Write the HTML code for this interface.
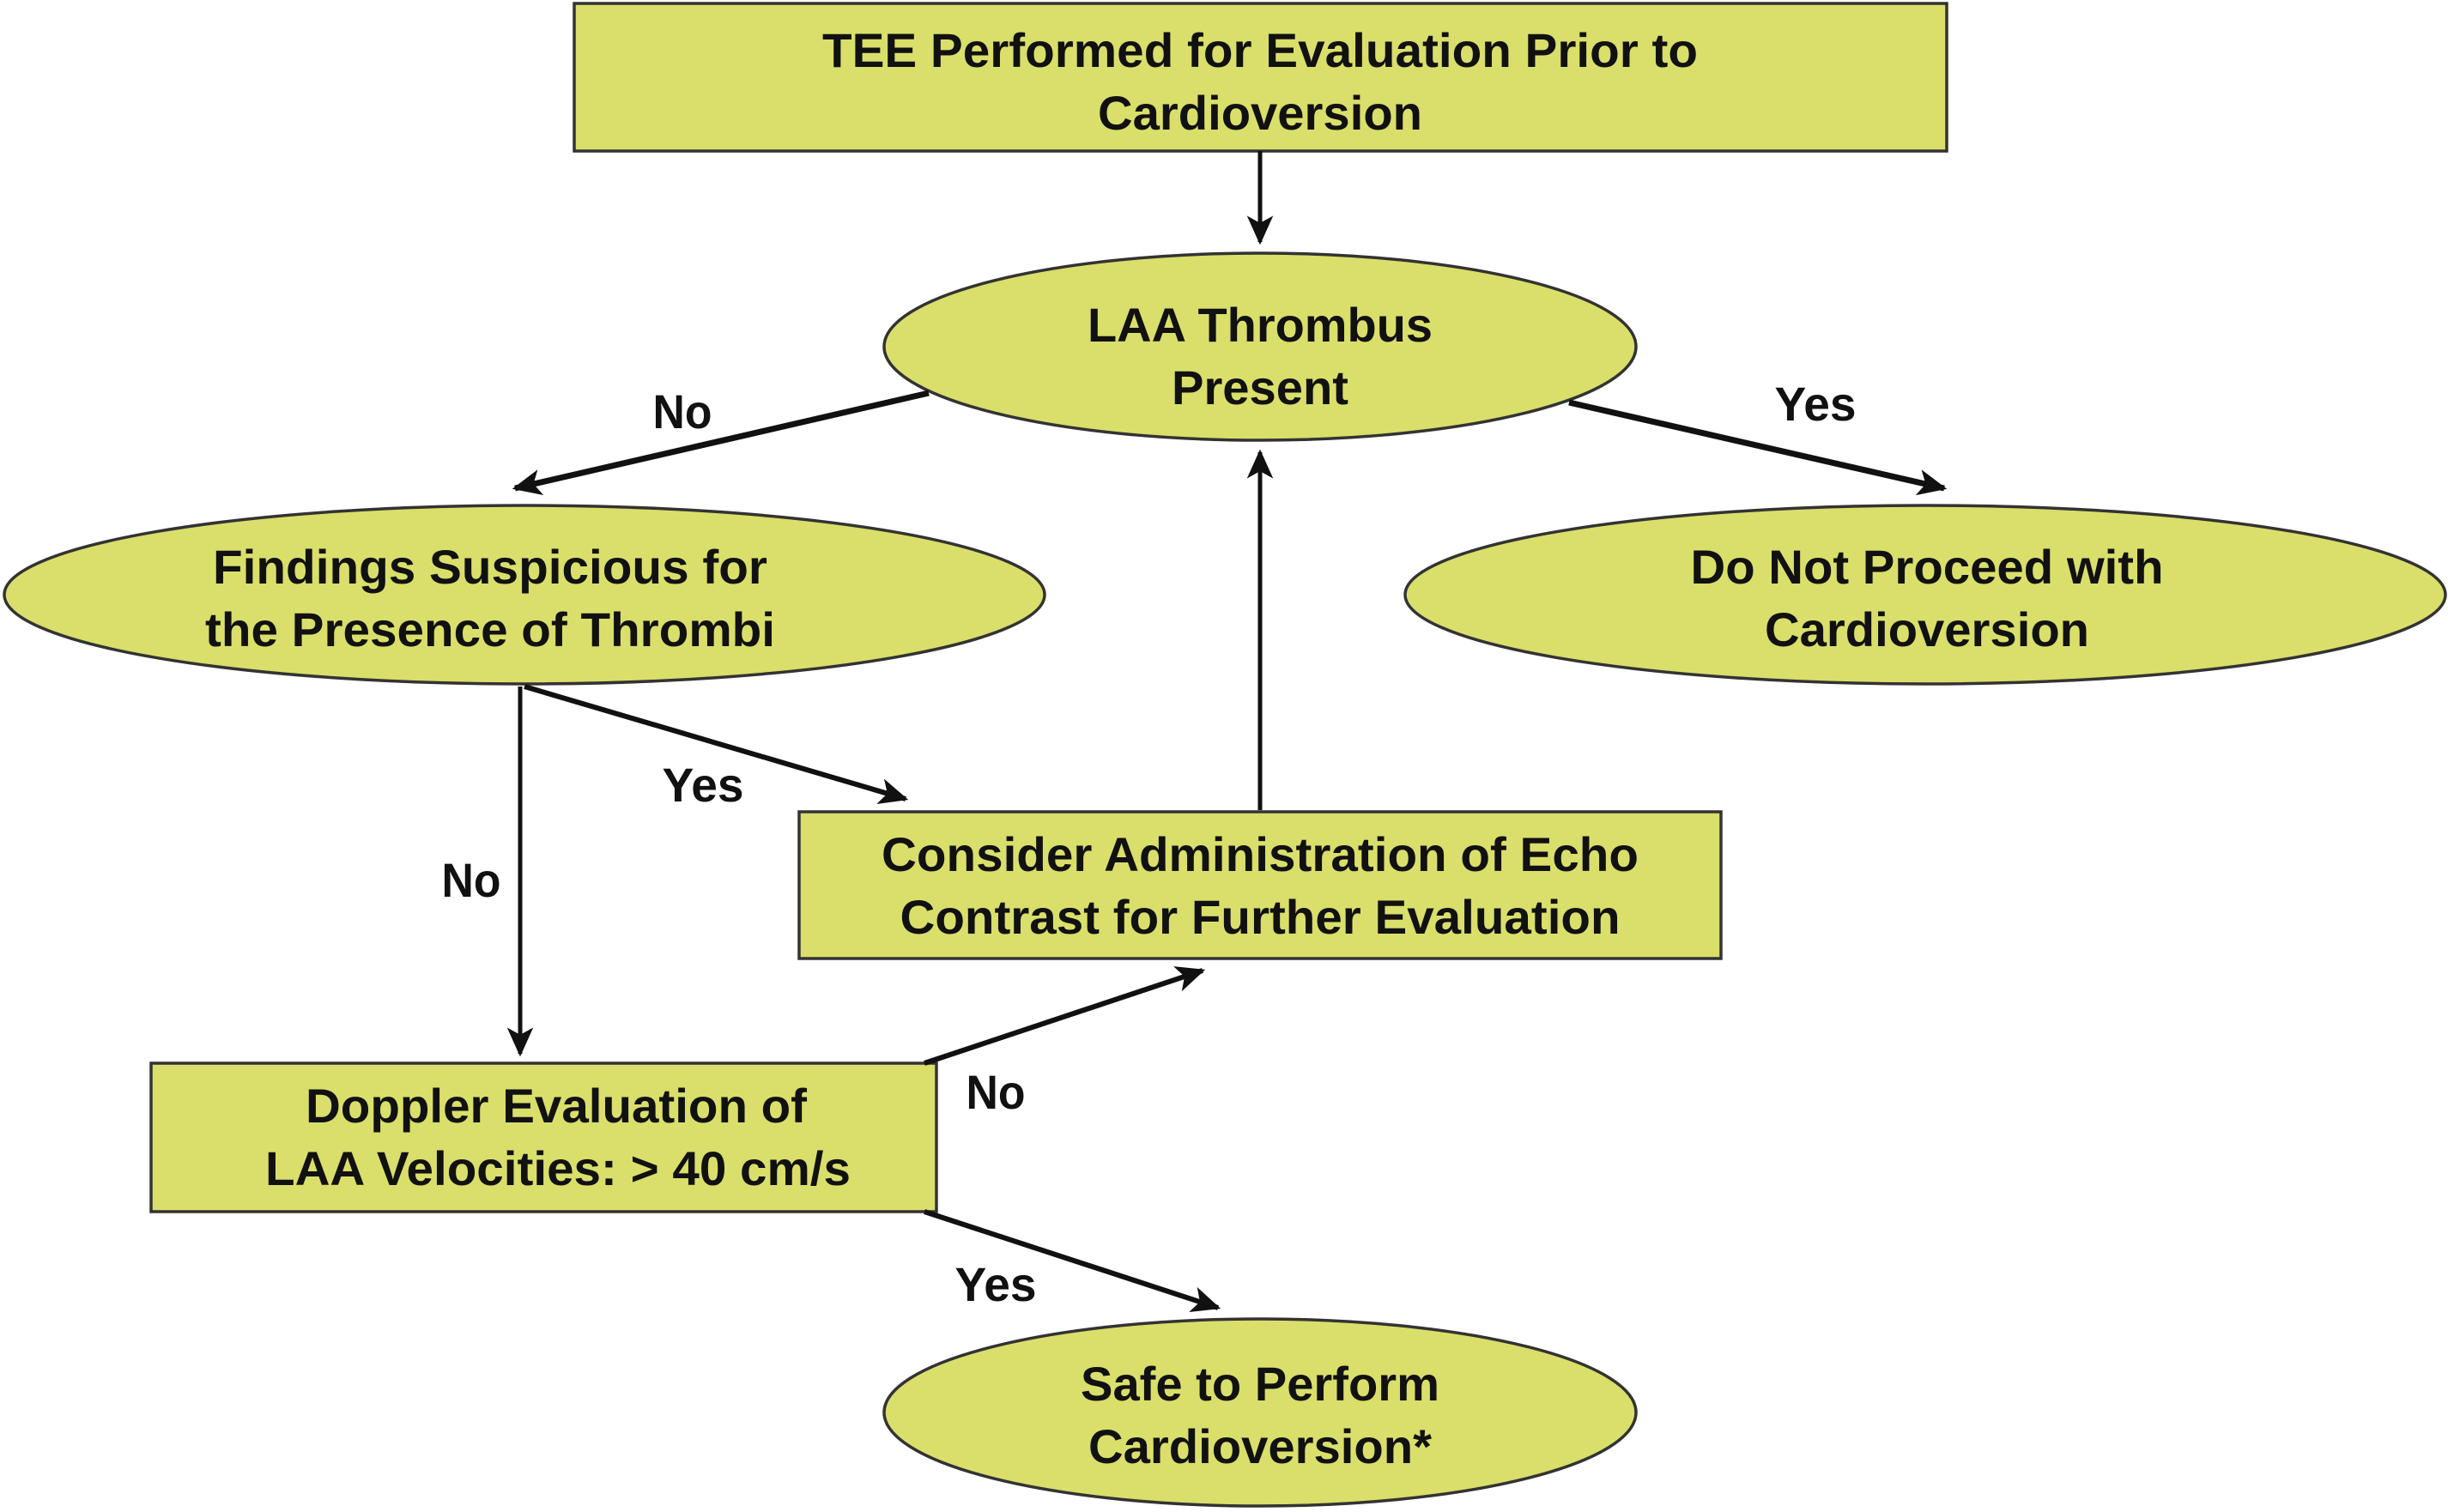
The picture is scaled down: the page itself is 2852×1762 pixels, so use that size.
<!DOCTYPE html>
<html><head><style>html,body{margin:0;padding:0;background:#fff}svg{display:block}</style></head>
<body>
<svg width="2852" height="1762" viewBox="0 0 2852 1762" xmlns="http://www.w3.org/2000/svg">
<defs>
<marker id="ah" viewBox="0 0 20 20" refX="18" refY="10" markerWidth="34" markerHeight="34" orient="auto" markerUnits="userSpaceOnUse">
<path d="M0,1 L20,10 L0,19 L5,10 Z" fill="#111"/>
</marker>
</defs>
<g fill="#d9df6a" stroke="#333" stroke-width="3.5">
<rect x="669" y="4" width="1599" height="172"/>
<ellipse cx="1468" cy="404" rx="438" ry="109"/>
<ellipse cx="611" cy="693" rx="606" ry="104"/>
<ellipse cx="2243" cy="693" rx="606" ry="104"/>
<rect x="931" y="946" width="1074" height="171"/>
<rect x="176" y="1239" width="915" height="173"/>
<ellipse cx="1468" cy="1646" rx="438" ry="109"/>
</g>
<g stroke="#111" stroke-width="5" fill="none" marker-end="url(#ah)">
<line x1="1468" y1="176" x2="1468" y2="282" stroke-width="5"/>
<line x1="1082" y1="458" x2="600" y2="569" stroke-width="7"/>
<line x1="1828" y1="469" x2="2265" y2="569" stroke-width="7"/>
<line x1="1468" y1="944" x2="1468" y2="527" stroke-width="5"/>
<line x1="606" y1="800" x2="606" y2="1228" stroke-width="5"/>
<line x1="611" y1="800" x2="1055" y2="931" stroke-width="6"/>
<line x1="1077" y1="1239" x2="1401" y2="1131" stroke-width="6"/>
<line x1="1077" y1="1412" x2="1419" y2="1524" stroke-width="6"/>
</g>
<g font-family="Liberation Sans, sans-serif" font-weight="bold" font-size="56" fill="#111" text-anchor="middle">
<text x="1468" y="78" textLength="1020" lengthAdjust="spacingAndGlyphs">TEE Performed for Evaluation Prior to</text>
<text x="1468" y="151" textLength="378" lengthAdjust="spacingAndGlyphs">Cardioversion</text>
<text x="1468" y="398" textLength="402" lengthAdjust="spacingAndGlyphs">LAA Thrombus</text>
<text x="1468" y="471" textLength="206" lengthAdjust="spacingAndGlyphs">Present</text>
<text x="571" y="680" textLength="646" lengthAdjust="spacingAndGlyphs">Findings Suspicious for</text>
<text x="571" y="753" textLength="664" lengthAdjust="spacingAndGlyphs">the Presence of Thrombi</text>
<text x="2245" y="680" textLength="551" lengthAdjust="spacingAndGlyphs">Do Not Proceed with</text>
<text x="2245" y="753" textLength="378" lengthAdjust="spacingAndGlyphs">Cardioversion</text>
<text x="1468" y="1015" textLength="882" lengthAdjust="spacingAndGlyphs">Consider Administration of Echo</text>
<text x="1468" y="1088" textLength="839" lengthAdjust="spacingAndGlyphs">Contrast for Further Evaluation</text>
<text x="648" y="1308" textLength="584" lengthAdjust="spacingAndGlyphs">Doppler Evaluation of</text>
<text x="650" y="1381" textLength="682" lengthAdjust="spacingAndGlyphs">LAA Velocities: &gt; 40 cm/s</text>
<text x="1468" y="1632" textLength="418" lengthAdjust="spacingAndGlyphs">Safe to Perform</text>
<text x="1468" y="1705" textLength="400" lengthAdjust="spacingAndGlyphs">Cardioversion*</text>
<text x="795" y="499" textLength="69" lengthAdjust="spacingAndGlyphs">No</text>
<text x="2115" y="490" textLength="95" lengthAdjust="spacingAndGlyphs">Yes</text>
<text x="819" y="934" textLength="95" lengthAdjust="spacingAndGlyphs">Yes</text>
<text x="549" y="1045" textLength="69" lengthAdjust="spacingAndGlyphs">No</text>
<text x="1160" y="1292" textLength="69" lengthAdjust="spacingAndGlyphs">No</text>
<text x="1160" y="1516" textLength="95" lengthAdjust="spacingAndGlyphs">Yes</text>
</g>
</svg>
</body></html>
